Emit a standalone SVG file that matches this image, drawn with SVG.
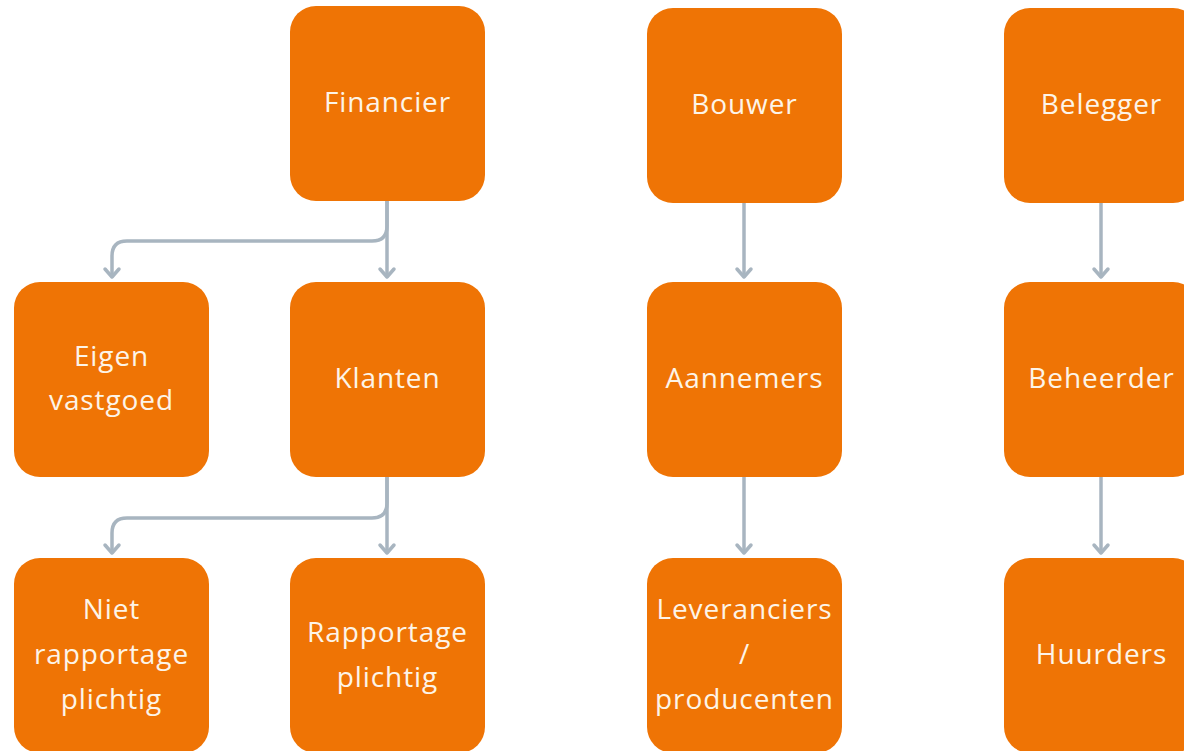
<svg xmlns="http://www.w3.org/2000/svg" width="1184" height="751" viewBox="0 0 1184 751">
<defs>
<style>
.box{fill:#ef7405}
.t{font-family:"Open Sans","Noto Sans",sans-serif;font-size:28px;letter-spacing:0.9px;fill:#fdf4e8;text-anchor:middle}
.c{fill:none;stroke:#a8b5c0;stroke-width:3.5;stroke-linecap:round;stroke-linejoin:round}
</style>
</defs>
<rect width="1184" height="751" fill="#fff"/>
<g id="connectors">
<path class="c" d="M387 201 V276"/>
<path class="c" d="M387 201 V226 Q387 241 372 241 H127 Q112 241 112 256 V276"/>
<path class="c" d="M380 269 L387 277 L394 269"/>
<path class="c" d="M105 269 L112 277 L119 269"/>
<path class="c" d="M387 477 V552"/>
<path class="c" d="M387 477 V503 Q387 518 372 518 H127 Q112 518 112 533 V552"/>
<path class="c" d="M380 545 L387 553 L394 545"/>
<path class="c" d="M105 545 L112 553 L119 545"/>
<path class="c" d="M744 203 V276"/>
<path class="c" d="M737 269 L744 277 L751 269"/>
<path class="c" d="M744 477 V552"/>
<path class="c" d="M737 545 L744 553 L751 545"/>
<path class="c" d="M1101 203 V276"/>
<path class="c" d="M1094 269 L1101 277 L1108 269"/>
<path class="c" d="M1101 477 V552"/>
<path class="c" d="M1094 545 L1101 553 L1108 545"/>
</g>
<g id="financier"><rect class="box" x="290" y="6" width="195" height="195" rx="26"/><text class="t" x="387.5" y="112">Financier</text></g>
<g id="bouwer"><rect class="box" x="647" y="8" width="195" height="195" rx="26"/><text class="t" x="744.5" y="114">Bouwer</text></g>
<g id="belegger"><rect class="box" x="1004" y="8" width="195" height="195" rx="26"/><text class="t" x="1101.5" y="114">Belegger</text></g>
<g id="eigen-vastgoed"><rect class="box" x="14" y="282" width="195" height="195" rx="26"/><text class="t" x="111.5" y="366">Eigen</text><text class="t" x="111.5" y="410">vastgoed</text></g>
<g id="klanten"><rect class="box" x="290" y="282" width="195" height="195" rx="26"/><text class="t" x="387.5" y="388">Klanten</text></g>
<g id="aannemers"><rect class="box" x="647" y="282" width="195" height="195" rx="26"/><text class="t" x="744.5" y="388">Aannemers</text></g>
<g id="beheerder"><rect class="box" x="1004" y="282" width="195" height="195" rx="26"/><text class="t" x="1101.5" y="388">Beheerder</text></g>
<g id="niet-rapportage"><rect class="box" x="14" y="558" width="195" height="195" rx="26"/><text class="t" x="111.5" y="619">Niet</text><text class="t" x="111.5" y="664">rapportage</text><text class="t" x="111.5" y="709">plichtig</text></g>
<g id="rapportage"><rect class="box" x="290" y="558" width="195" height="195" rx="26"/><text class="t" x="387.5" y="642">Rapportage</text><text class="t" x="387.5" y="687">plichtig</text></g>
<g id="leveranciers"><rect class="box" x="647" y="558" width="195" height="195" rx="26"/><text class="t" x="744.5" y="619">Leveranciers</text><text class="t" x="744.5" y="664">/</text><text class="t" x="744.5" y="709">producenten</text></g>
<g id="huurders"><rect class="box" x="1004" y="558" width="195" height="195" rx="26"/><text class="t" x="1101.5" y="664">Huurders</text></g>
</svg>
